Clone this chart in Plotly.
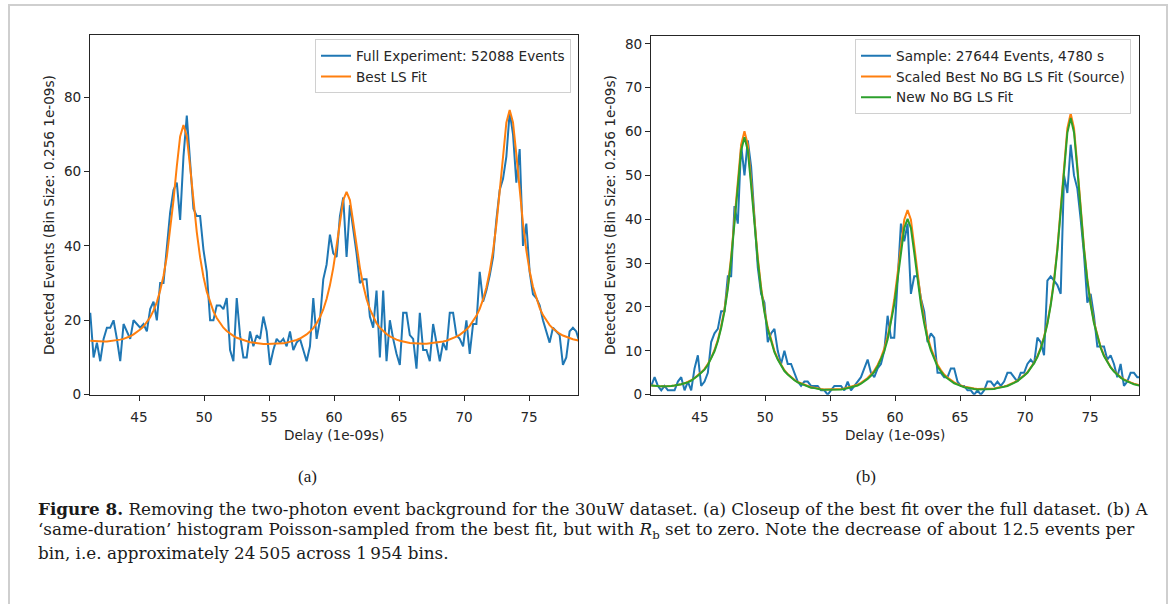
import plotly.graph_objects as go

# Histogram binning (ns)
BIN_START = 41.25
BIN_WIDTH = 0.256

# (a) full experiment histogram and its least-squares fit
full_counts = [
    22, 10, 14, 9, 15, 18, 18, 20, 15, 9,
    19, 17, 15, 20, 19, 18, 19, 17, 23, 25,
    20, 30, 30, 39, 49, 55, 57, 47, 64, 75,
    62, 50, 48, 48, 39, 33, 20, 20, 24, 24,
    23, 26, 12, 9, 26, 16, 10, 10, 17, 13,
    16, 15, 21, 17, 8, 12, 15, 14, 15, 13,
    17, 12, 14, 15, 12, 9, 13, 26, 15, 20,
    31, 35, 43, 38, 37, 48, 53, 37, 51, 45,
    38, 30, 31, 31, 21, 18, 28, 10, 28, 9,
    20, 15, 11, 8, 22, 22, 16, 15, 7, 22,
    12, 12, 9, 19, 14, 9, 14, 12, 22, 22,
    16, 15, 13, 20, 11, 19, 19, 33, 25, 28,
    32, 37, 47, 55, 58, 64, 76, 70, 57, 66,
    40, 46, 33, 27, 26, 24, 20, 17, 14, 18,
    17, 16, 8, 10, 17, 18, 17, 14,
]
best_fit = [
    14.5, 14.4, 14.3, 14.3, 14.3, 14.3, 14.4, 14.5, 14.6, 14.8,
    15.0, 15.3, 15.7, 16.2, 16.8, 17.5, 18.3, 19.4, 20.8, 22.6,
    24.9, 28.0, 31.9, 37.1, 43.9, 52.2, 61.4, 69.4, 72.5, 69.4,
    61.2, 52.0, 43.7, 36.9, 31.7, 27.7, 24.7, 22.4, 20.6, 19.2,
    18.0, 17.1, 16.4, 15.8, 15.3, 15.0, 14.6, 14.3, 14.1, 14.0,
    13.8, 13.7, 13.6, 13.6, 13.6, 13.6, 13.6, 13.7, 13.8, 14.0,
    14.2, 14.4, 14.7, 15.1, 15.6, 16.2, 17.0, 17.9, 19.2, 20.8,
    22.9, 25.7, 29.4, 34.1, 40.0, 46.4, 52.3, 54.5, 52.3, 46.4,
    40.0, 34.1, 29.4, 25.7, 23.0, 20.9, 19.2, 18.0, 17.0, 16.3,
    15.7, 15.2, 14.8, 14.5, 14.2, 14.1, 13.9, 13.8, 13.7, 13.7,
    13.7, 13.7, 13.8, 13.8, 14.0, 14.1, 14.3, 14.5, 14.8, 15.2,
    15.6, 16.1, 16.8, 17.5, 18.5, 19.7, 21.2, 23.1, 25.6, 28.8,
    33.1, 38.6, 45.8, 54.7, 64.5, 73.1, 76.5, 73.2, 64.6, 54.9,
    46.0, 38.8, 33.2, 29.0, 25.8, 23.3, 21.4, 19.9, 18.7, 17.8,
    17.0, 16.4, 15.9, 15.5, 15.2, 14.9, 14.7, 14.5,
]

# (b) Poisson sample without background, source fit and refit
sample_counts = [
    2, 4, 2, 1, 2, 1, 1, 1, 3, 4,
    1, 3, 1, 6, 9, 2, 3, 5, 12, 14,
    15, 19, 19, 27, 27, 43, 39, 57, 50, 58,
    52, 40, 29, 23, 21, 12, 14, 15, 10, 7,
    10, 7, 7, 5, 3, 2, 3, 3, 2, 2,
    2, 1, 1, 0, 1, 2, 2, 2, 1, 3,
    1, 2, 3, 4, 6, 8, 5, 4, 6, 7,
    10, 18, 13, 13, 26, 39, 35, 39, 23, 27,
    27, 22, 19, 12, 14, 13, 5, 5, 4, 4,
    6, 6, 3, 2, 2, 1, 1, 0, 1, 0,
    1, 3, 3, 2, 3, 2, 3, 5, 5, 4,
    3, 5, 5, 7, 8, 7, 13, 12, 9, 26,
    27, 26, 25, 23, 50, 46, 57, 50, 47, 40,
    32, 21, 23, 18, 11, 11, 11, 8, 9, 7,
    4, 7, 2, 3, 5, 5, 4, 4,
]
scaled_fit = [
    2.1, 2.0, 1.9, 1.9, 1.9, 1.9, 2.0, 2.1, 2.2, 2.4,
    2.6, 2.9, 3.3, 3.8, 4.4, 5.1, 5.9, 7.0, 8.4, 10.2,
    12.5, 15.6, 19.5, 24.7, 31.5, 39.8, 49.0, 57.0, 60.1, 57.0,
    48.8, 39.6, 31.3, 24.5, 19.3, 15.3, 12.3, 10.0, 8.2, 6.8,
    5.6, 4.7, 4.0, 3.4, 2.9, 2.6, 2.2, 1.9, 1.7, 1.6,
    1.4, 1.3, 1.2, 1.2, 1.2, 1.2, 1.2, 1.3, 1.4, 1.6,
    1.8, 2.0, 2.3, 2.7, 3.2, 3.8, 4.6, 5.5, 6.8, 8.4,
    10.5, 13.3, 17.0, 21.7, 27.6, 34.0, 39.9, 42.1, 39.9, 34.0,
    27.6, 21.7, 17.0, 13.3, 10.6, 8.5, 6.8, 5.6, 4.6, 3.9,
    3.3, 2.8, 2.4, 2.1, 1.8, 1.7, 1.5, 1.4, 1.3, 1.3,
    1.3, 1.3, 1.4, 1.4, 1.6, 1.7, 1.9, 2.1, 2.4, 2.8,
    3.2, 3.7, 4.4, 5.1, 6.1, 7.3, 8.8, 10.7, 13.2, 16.4,
    20.7, 26.2, 33.4, 42.3, 52.1, 60.7, 64.1, 60.8, 52.2, 42.5,
    33.6, 26.4, 20.8, 16.6, 13.4, 10.9, 9.0, 7.5, 6.3, 5.4,
    4.6, 4.0, 3.5, 3.1, 2.8, 2.5, 2.3, 2.1,
]
new_fit = [
    2.1, 2.0, 1.9, 1.9, 1.9, 1.9, 2.0, 2.1, 2.2, 2.4,
    2.6, 2.8, 3.2, 3.7, 4.3, 5.0, 5.7, 6.8, 8.2, 9.9,
    12.2, 15.2, 19.0, 24.1, 30.8, 38.9, 47.9, 55.7, 58.7, 55.7,
    47.7, 38.7, 30.6, 23.9, 18.8, 14.9, 12.0, 9.7, 8.0, 6.6,
    5.4, 4.6, 3.9, 3.3, 2.8, 2.5, 2.1, 1.8, 1.6, 1.5,
    1.3, 1.2, 1.1, 1.1, 1.1, 1.1, 1.1, 1.2, 1.3, 1.5,
    1.7, 1.9, 2.1, 2.5, 3.0, 3.6, 4.3, 5.2, 6.4, 8.0,
    9.9, 12.6, 16.2, 20.6, 26.3, 32.4, 38.0, 40.1, 38.0, 32.4,
    26.3, 20.6, 16.2, 12.6, 10.1, 8.1, 6.4, 5.3, 4.3, 3.7,
    3.1, 2.6, 2.3, 2.0, 1.7, 1.6, 1.4, 1.3, 1.2, 1.2,
    1.2, 1.2, 1.3, 1.3, 1.5, 1.6, 1.8, 2.0, 2.3, 2.7,
    3.1, 3.6, 4.3, 5.0, 6.0, 7.2, 8.6, 10.5, 13.0, 16.1,
    20.4, 25.8, 32.9, 41.6, 51.3, 59.7, 63.1, 59.8, 51.4, 41.8,
    33.1, 26.0, 20.5, 16.3, 13.2, 10.7, 8.8, 7.4, 6.2, 5.3,
    4.5, 3.9, 3.4, 3.0, 2.7, 2.4, 2.2, 2.0,
]

x_ticks = [45, 50, 55, 60, 65, 70, 75]
y_ticks_a = [0, 20, 40, 60, 80]
y_ticks_b = [0, 10, 20, 30, 40, 50, 60, 70, 80]

delay = [round(BIN_START + BIN_WIDTH * i, 3) for i in range(len(full_counts))]

W, H = 1170, 604
BLUE, ORANGE, GREEN = "#1f77b4", "#ff7f0e", "#2ca02c"
INK = "#262626"
SANS = "DejaVu Sans"
SERIF = "Liberation Serif"
CAPTION_SERIF = "DejaVu Serif"
FS = 13.6


def px_x(p):
    return p / W


def px_y(p):
    return 1 - p / H


fig = go.Figure()
fig.add_trace(go.Scatter(x=delay, y=full_counts, mode="lines", name="Full Experiment: 52088 Events",
                         line=dict(color=BLUE, width=2), xaxis="x", yaxis="y", legend="legend"))
fig.add_trace(go.Scatter(x=delay, y=best_fit, mode="lines", name="Best LS Fit",
                         line=dict(color=ORANGE, width=2), xaxis="x", yaxis="y", legend="legend"))
fig.add_trace(go.Scatter(x=delay, y=sample_counts, mode="lines", name="Sample: 27644 Events, 4780 s",
                         line=dict(color=BLUE, width=2), xaxis="x2", yaxis="y2", legend="legend2"))
fig.add_trace(go.Scatter(x=delay, y=scaled_fit, mode="lines", name="Scaled Best No BG LS Fit (Source)",
                         line=dict(color=ORANGE, width=2), xaxis="x2", yaxis="y2", legend="legend2"))
fig.add_trace(go.Scatter(x=delay, y=new_fit, mode="lines", name="New No BG LS Fit",
                         line=dict(color=GREEN, width=2), xaxis="x2", yaxis="y2", legend="legend2"))

axis_style = dict(showline=True, linecolor=INK, linewidth=1, mirror=True, ticks="outside",
                  ticklen=5, tickwidth=1, tickcolor=INK, showgrid=False, zeroline=False,
                  tickfont=dict(family=SANS, size=FS, color=INK))
x_style = dict(axis_style, ticklabelstandoff=5)

legend_style = dict(xanchor="right", yanchor="top", bgcolor="rgba(255,255,255,0.85)",
                    bordercolor="#d0d0d0", borderwidth=1, itemwidth=30, tracegroupgap=0,
                    font=dict(family=SANS, size=FS, color=INK))

fig.update_layout(
    width=W, height=H, margin=dict(l=0, r=0, t=0, b=0),
    paper_bgcolor="white", plot_bgcolor="white", showlegend=True,
    xaxis=dict(domain=[px_x(90), px_x(578)], range=[41.23, 78.76], tickvals=x_ticks,
               anchor="y", **x_style),
    yaxis=dict(domain=[px_y(400), px_y(35)], range=[0, 96.8], tickvals=y_ticks_a,
               anchor="x", **axis_style),
    xaxis2=dict(domain=[px_x(651), px_x(1139)], range=[41.23, 78.76], tickvals=x_ticks,
                anchor="y2", **x_style),
    yaxis2=dict(domain=[px_y(400), px_y(36)], range=[0, 81.9], tickvals=y_ticks_b,
                anchor="x2", **axis_style),
    legend=dict(x=px_x(571), y=px_y(40), **legend_style),
    legend2=dict(x=px_x(1131), y=px_y(40), **legend_style),
)

annotations = []
# axis titles
for cx in (334, 895):
    annotations.append(dict(x=px_x(cx), y=px_y(441), xref="paper", yref="paper", text="Delay (1e-09s)",
                            showarrow=False, xanchor="center", yanchor="middle",
                            font=dict(family=SANS, size=FS, color=INK)))
for cx in (49, 610):
    annotations.append(dict(x=px_x(cx), y=px_y(218), xref="paper", yref="paper",
                            text="Detected Events (Bin Size: 0.256 1e-09s)", textangle=-90,
                            showarrow=False, xanchor="center", yanchor="middle",
                            font=dict(family=SANS, size=FS, color=INK)))
# panel labels
for cx, lab in ((307, "(a)"), (866, "(b)")):
    annotations.append(dict(x=px_x(cx), y=px_y(483), xref="paper", yref="paper", text=lab,
                            showarrow=False, xanchor="center", yanchor="middle",
                            font=dict(family=SERIF, size=17, color="#1a1a1a")))
# figure caption
caption_lines = [
    "<b>Figure 8.</b> Removing the two-photon event background for the 30uW dataset. "
    "(a) Closeup of the best fit over the full dataset. (b) A",
    "\u2018same-duration\u2019 histogram Poisson-sampled from the best fit, but with "
    "<i>R</i><sub>b</sub> set to zero. Note the decrease of about 12.5 events per",
    "bin, i.e. approximately 24\u2009505 across 1\u2009954 bins.",
]
for k, line in enumerate(caption_lines):
    annotations.append(dict(x=px_x(36), y=px_y(516 + 22 * k), xref="paper", yref="paper", text=line,
                            showarrow=False, xanchor="left", yanchor="middle",
                            font=dict(family=CAPTION_SERIF, size=16.8, color="#1a1a1a")))
fig.update_layout(annotations=annotations)

# outer frame around the figure panel
fig.add_shape(type="rect", xref="paper", yref="paper",
              x0=px_x(9), x1=px_x(1167), y0=-0.05, y1=px_y(5),
              line=dict(color="#cfcfcf", width=2), fillcolor="rgba(0,0,0,0)", layer="below")

fig.write_html("out.html")
